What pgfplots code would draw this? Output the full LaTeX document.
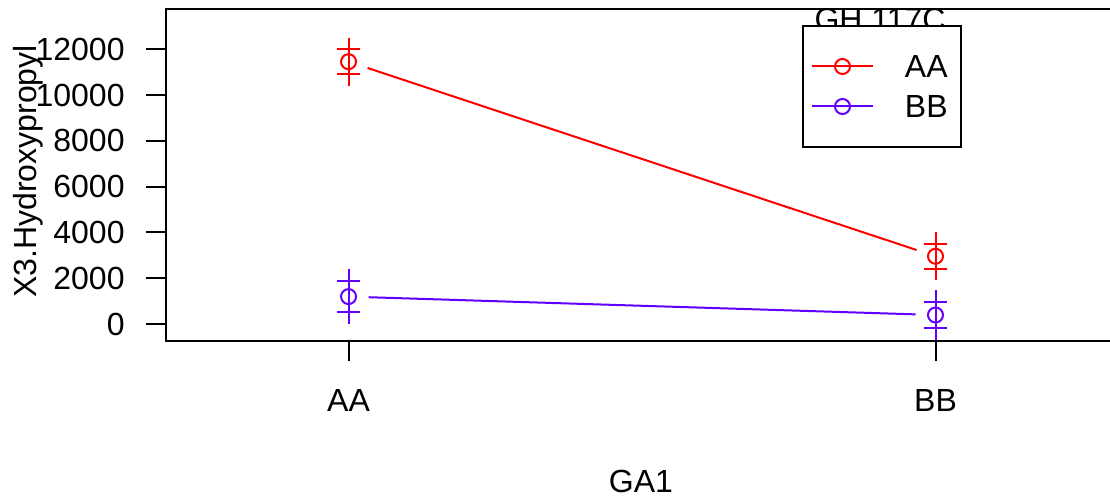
\documentclass[border=0pt]{standalone}
\usepackage{pgfplots}
\pgfplotsset{compat=1.18}
\usepackage{fontspec}
\setmainfont{Liberation Sans}
\definecolor{rred}{RGB}{255,0,0}
\definecolor{rblue}{RGB}{97,0,255}
\begin{document}
\begin{tikzpicture}[font=\fontsize{16}{19.2}\selectfont]
\begin{axis}[
  at={(83pt,77.5pt)}, anchor=south west,
  scale only axis, width=473pt, height=166pt,
  xmin=0.689, xmax=2.3007, ymin=-742.7, ymax=13760,
  xtick={1,2}, xticklabels={AA,BB},
  ytick={0,2000,4000,6000,8000,10000,12000},
  /pgf/number format/assume math mode=true,
  /pgf/number format/1000 sep={},
  scaled y ticks=false,
  tick align=outside, tick pos=left, major tick length=10pt,
  every tick/.style={black, line width=1pt},
  axis line style={line width=1pt},
  yticklabel style={anchor=east, inner sep=0pt},
  xticklabel style={anchor=north, inner sep=0pt},
  yticklabel shift=10.5pt,
  xticklabel shift=14.25pt,
  xlabel={GA1}, ylabel={X3.Hydroxypropyl},
  xlabel style={at={(axis description cs:0.502,-0.455)}, anchor=base},
  ylabel style={at={(axis description cs:-0.1364,0.5105)}, anchor=base},
  legend cell align=left,
  legend style={at={(axis description cs:0.6723,0.9518)}, anchor=north west,
    draw=black, line width=1pt, inner xsep=4pt, inner ysep=10.25pt,
    row sep=0pt, column sep=15.5pt,
    nodes={inner sep=0pt, text height=15.73pt, text depth=4.27pt, text width=24pt}},
  legend image code/.code={\draw[mark repeat=2,mark phase=2,#1] plot coordinates {(0pt,0pt) (15.25pt,0pt) (30.5pt,0pt)};},
]
\addlegendimage{rred, line width=1pt, mark=o, mark size=3.75pt, mark options={solid}}
\addlegendentry{AA}
\addlegendimage{rblue, line width=1pt, mark=o, mark size=3.75pt, mark options={solid}}
\addlegendentry{BB}

\addplot[rred, line width=1pt, shorten <=10pt, shorten >=10pt, forget plot] coordinates {(1,11459) (2,2958)};
\addplot[rred, only marks, mark=o, mark size=3.75pt, line width=1pt, forget plot,
  error bars/.cd, y dir=both, y explicit, error mark=+,
  error mark options={rred, mark size=5.75pt, line width=1pt},
  error bar style={rred, line width=1pt}]
  coordinates {(1,11459) +- (0,540) (2,2958) +- (0,540)};

\addplot[rblue, line width=1pt, shorten <=10pt, shorten >=10pt, forget plot] coordinates {(1,1197) (2,393)};
\addplot[rblue, only marks, mark=o, mark size=3.75pt, line width=1pt, forget plot,
  error bars/.cd, y dir=both, y explicit, error mark=+,
  error mark options={rblue, mark size=5.75pt, line width=1pt},
  error bar style={rblue, line width=1pt}]
  coordinates {(1,1197) +- (0,690) (2,393) +- (0,581)};

\node[anchor=base] at (axis description cs:0.7548,0.9367) {GH.117C};
\end{axis}
\pgfresetboundingbox
\path[use as bounding box] (0,0) rectangle (555pt,248pt);
\end{tikzpicture}
\end{document}
